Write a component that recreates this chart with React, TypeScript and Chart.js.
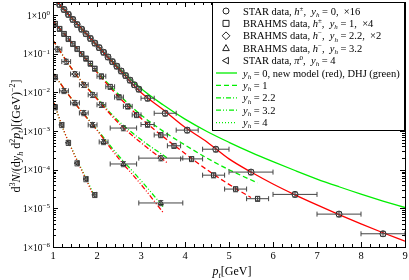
import React, { useEffect, useRef } from "react";
import { Chart, registerables } from "chart.js";
Chart.register(...registerables);

const FONT = '"Liberation Serif", "DejaVu Serif", serif';

// ---------- data ----------
// STAR h+-, y_h = 0, x16 (circles)
const starY0Pt = [1.15, 1.25, 1.35, 1.45, 1.55, 1.65, 1.75, 1.85, 1.95, 2.05, 2.15, 2.25, 2.35, 2.45, 2.55, 2.65, 2.75, 2.85, 2.95, 3.15, 3.55, 4.05, 4.7, 5.5, 6.5, 7.5, 8.5];
const starY0Val = [1.9, 1.41, 1.05, 0.78, 0.575, 0.436, 0.331, 0.251, 0.19, 0.145, 0.11, 0.083, 0.063, 0.048, 0.036, 0.0275, 0.0209, 0.0158, 0.0122, 0.0071, 0.0029, 0.00106, 0.00034, 0.000087, 0.000023, 0.0000071, 0.0000022];
const starY0Bin = [0.05, 0.05, 0.05, 0.05, 0.05, 0.05, 0.05, 0.05, 0.05, 0.05, 0.05, 0.05, 0.05, 0.05, 0.05, 0.05, 0.05, 0.05, 0.05, 0.15, 0.25, 0.25, 0.3, 0.5, 0.5, 0.5, 0.5];

// BRAHMS h+-, y_h = 1, x4 (squares)
const brY1Pt = [1.05, 1.15, 1.25, 1.35, 1.45, 1.55, 1.65, 1.75, 1.85, 1.95, 2.1, 2.3, 2.5, 2.7, 2.9, 3.15, 3.45, 3.75, 4.15, 4.65, 5.15, 5.65];
const brY1Val = [0.603, 0.447, 0.331, 0.245, 0.182, 0.135, 0.1, 0.0759, 0.0562, 0.0417, 0.0263, 0.0141, 0.00759, 0.00437, 0.00263, 0.00148, 0.000794, 0.000417, 0.000191, 0.0000724, 0.0000316, 0.0000178];
const brY1Bin = [0.05, 0.05, 0.05, 0.05, 0.05, 0.05, 0.05, 0.05, 0.05, 0.05, 0.1, 0.1, 0.1, 0.1, 0.1, 0.15, 0.15, 0.15, 0.25, 0.25, 0.25, 0.25];

// BRAHMS h-, y_h = 2.2, x2 (diamonds)
const brY22Pt = [1.1, 1.3, 1.5, 1.7, 1.9, 2.1, 2.6, 3.45];
const brY22Val = [0.132, 0.063, 0.03, 0.0158, 0.0087, 0.0048, 0.0012, 0.0002];
const brY22Bin = [0.1, 0.1, 0.1, 0.1, 0.1, 0.1, 0.3, 0.5];

// BRAHMS h-, y_h = 3.2 (triangles)
const brY32Pt = [1.05, 1.25, 1.5, 1.7, 1.9, 2.15, 2.6, 3.45];
const brY32Val = [0.0251, 0.011, 0.00537, 0.00295, 0.00145, 0.000525, 0.000141, 0.0000138];
const brY32Bin = [0.05, 0.1, 0.1, 0.1, 0.1, 0.1, 0.3, 0.5];

// STAR pi0, y_h = 4 (left triangles)
const starY4Pt = [1.05, 1.2, 1.35, 1.55, 1.75, 1.95];
const starY4Val = [0.00417, 0.00145, 0.0005, 0.000148, 0.0000575, 0.0000224];
const starY4Bin = [0.05, 0.05, 0.05, 0.05, 0.05, 0.05];

// model curves: new model (red), DHJ (green)
const cY0Pt = [1.05, 1.5, 2, 2.5, 3, 3.5, 4, 4.5, 5, 5.5, 6, 6.5, 7, 7.5, 8, 8.5, 9];
const redY0 = [2.51, 0.692, 0.166, 0.0398, 0.01, 0.00363, 0.00126, 0.000525, 0.000191, 0.0000871, 0.0000427, 0.0000224, 0.0000123, 0.00000692, 0.00000398, 0.00000234, 0.00000141];
const greenY0 = [2.51, 0.692, 0.166, 0.0427, 0.0126, 0.00479, 0.00204, 0.000977, 0.000513, 0.000282, 0.000162, 0.0000955, 0.0000575, 0.0000363, 0.0000234, 0.0000155, 0.0000105];

const cY1PtR = [1.0, 1.5, 2, 2.5, 3, 3.5, 4, 4.5, 5, 5.5];
const redY1 = [0.708, 0.158, 0.0331, 0.00759, 0.00214, 0.000724, 0.000263, 0.0001, 0.0000417, 0.0000191];
const cY1PtG = [1.0, 1.5, 2, 2.5, 3, 3.5, 4, 4.5, 5, 5.65];
const greenY1 = [0.708, 0.158, 0.0347, 0.00871, 0.00263, 0.001, 0.000437, 0.0002, 0.0001, 0.0000457];

const cY22Pt = [1.0, 1.5, 2, 2.5, 3, 3.6];
const redY22 = [0.224, 0.0316, 0.00676, 0.00158, 0.0005, 0.00015];
const greenY22 = [0.224, 0.0316, 0.00708, 0.00178, 0.000603, 0.0002];

const cY32Pt = [1.0, 1.5, 2, 2.5, 3, 3.5];
const redY32 = [0.0316, 0.00525, 0.00105, 0.000191, 0.0000417, 0.0000079];
const greenY32 = [0.0316, 0.00525, 0.0011, 0.000224, 0.0000525, 0.0000112];

const cY4Pt = [1.0, 1.25, 1.5, 1.75, 1.95];
const redY4 = [0.0063, 0.001, 0.000224, 0.0000562, 0.0000178];
const greenY4 = [0.0063, 0.001, 0.000234, 0.0000603, 0.00002];

const xTicks = [1, 2, 3, 4, 5, 6, 7, 8, 9];
const yTicks = [1e-6, 1e-5, 1e-4, 1e-3, 1e-2, 1e-1, 1];

const RED = "#ff0000";
const GREEN = "#00ee00";
const DASH: Record<string, number[]> = {
  solid: [],
  dashed: [5, 3],
  dashdot: [5, 2, 1, 2],
  dashdotdot: [5, 2, 1, 2, 1, 2],
  dotted: [1, 2],
};

type Seg = { t: string; it?: boolean; sup?: boolean; sub?: boolean };

function segFont(size: number, s: Seg) {
  const sz = s.sup || s.sub ? Math.round(size * 0.7) : size;
  return `${s.it ? "italic " : ""}${sz}px ${FONT}`;
}
function richWidth(ctx: CanvasRenderingContext2D, segs: Seg[], size: number) {
  let w = 0;
  for (const s of segs) {
    ctx.font = segFont(size, s);
    w += ctx.measureText(s.t).width;
  }
  return w;
}
function drawRich(ctx: CanvasRenderingContext2D, segs: Seg[], x: number, y: number, size: number, align: "left" | "center" | "right") {
  const w = richWidth(ctx, segs, size);
  let cx = align === "center" ? x - w / 2 : align === "right" ? x - w : x;
  ctx.textBaseline = "alphabetic";
  ctx.textAlign = "left";
  for (const s of segs) {
    ctx.font = segFont(size, s);
    const dy = s.sup ? -size * 0.38 : s.sub ? size * 0.22 : 0;
    ctx.fillText(s.t, cx, y + dy);
    cx += ctx.measureText(s.t).width;
  }
}

function drawMarker(ctx: CanvasRenderingContext2D, kind: string, x: number, y: number, r: number) {
  ctx.beginPath();
  if (kind === "circle") ctx.arc(x, y, r, 0, Math.PI * 2);
  else if (kind === "rect") ctx.rect(x - r, y - r, 2 * r, 2 * r);
  else if (kind === "rectRot") {
    ctx.moveTo(x, y - r * 1.3); ctx.lineTo(x + r * 1.3, y); ctx.lineTo(x, y + r * 1.3); ctx.lineTo(x - r * 1.3, y); ctx.closePath();
  } else if (kind === "triangle") {
    ctx.moveTo(x, y - r * 1.2); ctx.lineTo(x + r * 1.1, y + r * 0.8); ctx.lineTo(x - r * 1.1, y + r * 0.8); ctx.closePath();
  } else if (kind === "left") {
    ctx.moveTo(x - r * 1.2, y); ctx.lineTo(x + r * 0.8, y - r * 1.1); ctx.lineTo(x + r * 0.8, y + r * 1.1); ctx.closePath();
  }
  ctx.stroke();
}

const legendRows: { kind: "marker" | "line"; style: string; segs: Seg[] }[] = [
  { kind: "marker", style: "circle", segs: [{ t: "STAR data, " }, { t: "h", it: true }, { t: "±", sup: true }, { t: ",  " }, { t: "y", it: true }, { t: "h", it: true, sub: true }, { t: " = 0,  ×16" }] },
  { kind: "marker", style: "rect", segs: [{ t: "BRAHMS data, " }, { t: "h", it: true }, { t: "±", sup: true }, { t: ",  " }, { t: "y", it: true }, { t: "h", it: true, sub: true }, { t: " = 1,  ×4" }] },
  { kind: "marker", style: "rectRot", segs: [{ t: "BRAHMS data, " }, { t: "h", it: true }, { t: "−", sup: true }, { t: ",  " }, { t: "y", it: true }, { t: "h", it: true, sub: true }, { t: " = 2.2,  ×2" }] },
  { kind: "marker", style: "triangle", segs: [{ t: "BRAHMS data, " }, { t: "h", it: true }, { t: "−", sup: true }, { t: ",  " }, { t: "y", it: true }, { t: "h", it: true, sub: true }, { t: " = 3.2" }] },
  { kind: "marker", style: "left", segs: [{ t: "STAR data, " }, { t: "π", it: true }, { t: "0", sup: true }, { t: ",  " }, { t: "y", it: true }, { t: "h", it: true, sub: true }, { t: " = 4" }] },
  { kind: "line", style: "solid", segs: [{ t: "y", it: true }, { t: "h", it: true, sub: true }, { t: " = 0, new model (red), DHJ (green)" }] },
  { kind: "line", style: "dashed", segs: [{ t: "y", it: true }, { t: "h", it: true, sub: true }, { t: " = 1" }] },
  { kind: "line", style: "dashdot", segs: [{ t: "y", it: true }, { t: "h", it: true, sub: true }, { t: " = 2.2" }] },
  { kind: "line", style: "dashdotdot", segs: [{ t: "y", it: true }, { t: "h", it: true, sub: true }, { t: " = 3.2" }] },
  { kind: "line", style: "dotted", segs: [{ t: "y", it: true }, { t: "h", it: true, sub: true }, { t: " = 4" }] },
];

const decorPlugin = {
  id: "decor",
  afterDatasetsDraw(chart: any) {
    const ctx: CanvasRenderingContext2D = chart.ctx;
    const xs = chart.scales.x;
    const ys = chart.scales.y;
    const area = chart.chartArea;
    ctx.save();
    ctx.beginPath();
    ctx.rect(area.left, area.top, area.right - area.left, area.bottom - area.top);
    ctx.clip();
    ctx.strokeStyle = "#444";
    ctx.lineWidth = 1;
    chart.data.datasets.forEach((ds: any) => {
      if (!ds.eb) return;
      ds.data.forEach((d: any) => {
        const px = xs.getPixelForValue(d.x);
        const py = ys.getPixelForValue(d.y);
        const x0 = xs.getPixelForValue(d.x - d.xe);
        const x1 = xs.getPixelForValue(d.x + d.xe);
        const y0 = ys.getPixelForValue(d.y * (1 - d.ye));
        const y1 = ys.getPixelForValue(d.y * (1 + d.ye));
        ctx.beginPath();
        ctx.moveTo(x0, py); ctx.lineTo(x1, py);
        ctx.moveTo(x0, py - 2.5); ctx.lineTo(x0, py + 2.5);
        ctx.moveTo(x1, py - 2.5); ctx.lineTo(x1, py + 2.5);
        ctx.moveTo(px, y0); ctx.lineTo(px, y1);
        ctx.moveTo(px - 2.5, y0); ctx.lineTo(px + 2.5, y0);
        ctx.moveTo(px - 2.5, y1); ctx.lineTo(px + 2.5, y1);
        ctx.stroke();
      });
    });
    ctx.restore();
  },
  afterDraw(chart: any) {
    const ctx: CanvasRenderingContext2D = chart.ctx;
    const xs = chart.scales.x;
    const ys = chart.scales.y;
    const a = chart.chartArea;
    ctx.save();
    ctx.strokeStyle = "#000";
    ctx.fillStyle = "#000";
    ctx.lineWidth = 1;
    // ticks
    ctx.beginPath();
    for (let v = 1; v <= 9.001; v += 0.2) {
      const major = Math.abs(v - Math.round(v)) < 1e-6;
      const len = major ? 5 : 3;
      const px = Math.round(xs.getPixelForValue(v)) + 0.5;
      ctx.moveTo(px, a.bottom); ctx.lineTo(px, a.bottom - len);
      ctx.moveTo(px, a.top); ctx.lineTo(px, a.top + len);
    }
    for (let e = -6; e <= 0; e++) {
      for (let m = 1; m <= 9; m++) {
        const v = m * Math.pow(10, e);
        if (v > ys.max) continue;
        const len = m === 1 ? 5 : 3;
        const py = Math.round(ys.getPixelForValue(v)) + 0.5;
        ctx.moveTo(a.left, py); ctx.lineTo(a.left + len, py);
        ctx.moveTo(a.right, py); ctx.lineTo(a.right - len, py);
      }
    }
    ctx.stroke();
    // frame
    ctx.strokeRect(Math.round(a.left) + 0.5, Math.round(a.top) + 0.5, Math.round(a.right - a.left), Math.round(a.bottom - a.top));

    // y tick labels
    yTicks.forEach((v) => {
      const py = ys.getPixelForValue(v);
      const e = Math.round(Math.log10(v));
      drawRich(ctx, [{ t: "1×10" }, { t: e < 0 ? "−" + String(-e) : String(e), sup: true }], a.left - 3, py + 3.5, 9.5, "right");
    });

    // legend box
    const lx = 212, ly = 2, lw = 192, lh = 128;
    ctx.fillStyle = "#fff";
    ctx.fillRect(lx, ly, lw, lh);
    ctx.strokeStyle = "#000";
    ctx.strokeRect(lx + 0.5, ly + 0.5, lw, lh);
    legendRows.forEach((row, i) => {
      const cy = 11 + i * 12.4;
      if (row.kind === "marker") {
        ctx.strokeStyle = "#222";
        ctx.lineWidth = 1;
        drawMarker(ctx, row.style, 226, cy, 3);
      } else {
        ctx.strokeStyle = GREEN;
        ctx.lineWidth = 1.3;
        ctx.setLineDash(DASH[row.style]);
        ctx.beginPath();
        ctx.moveTo(216, cy); ctx.lineTo(237, cy);
        ctx.stroke();
        ctx.setLineDash([]);
      }
      ctx.fillStyle = "#000";
      drawRich(ctx, row.segs, 243, cy + 3.5, 10.5, "left");
    });

    // axis titles
    ctx.fillStyle = "#000";
    drawRich(ctx, [{ t: "p", it: true }, { t: "t", it: true, sub: true }, { t: "[GeV]" }], (a.left + a.right) / 2 + 3, 275, 12, "center");
    ctx.translate(20, 136);
    ctx.rotate(-Math.PI / 2);
    drawRich(ctx, [
      { t: "d" }, { t: "3", sup: true }, { t: "N", it: true }, { t: "/(d" }, { t: "y", it: true }, { t: "h", it: true, sub: true },
      { t: " d" }, { t: "2", sup: true }, { t: "p", it: true }, { t: "t", it: true, sub: true }, { t: ")[(GeV)" }, { t: "−2", sup: true }, { t: "]" },
    ], 0, 0, 12, "center");
    ctx.restore();
  },
};

function pts(xv: number[], yv: number[], bins: number[], ye: number) {
  return xv.map((x, i) => ({ x, y: yv[i], xe: bins[i], ye }));
}
function curve(xv: number[], yv: number[]) {
  return xv.map((x, i) => ({ x, y: yv[i] }));
}

export default function App() {
  const ref = useRef<HTMLCanvasElement | null>(null);
  useEffect(() => {
    if (!ref.current) return;
    const markerDs = (data: any[], style: string, rot = 0) => ({
      data, eb: true, showLine: false, pointStyle: style, pointRotation: rot, pointRadius: 3,
      pointBorderColor: "#222", pointBackgroundColor: "rgba(0,0,0,0)", pointBorderWidth: 1, order: 0,
    });
    const lineDs = (data: any[], color: string, style: string, order: number) => ({
      data, showLine: true, pointRadius: 0, borderColor: color, borderWidth: 1.3, borderDash: DASH[style],
      cubicInterpolationMode: "monotone", order, backgroundColor: color,
    });
    const zeroPad = (s: any) => { s.paddingTop = 0; s.paddingBottom = 0; s.paddingLeft = 0; s.paddingRight = 0; };
    const chart = new Chart(ref.current, {
      type: "scatter",
      data: {
        datasets: [
          lineDs(curve(cY0Pt, greenY0), GREEN, "solid", 2),
          lineDs(curve(cY1PtG, greenY1), GREEN, "dashed", 2),
          lineDs(curve(cY22Pt, greenY22), GREEN, "dashdot", 2),
          lineDs(curve(cY32Pt, greenY32), GREEN, "dashdotdot", 2),
          lineDs(curve(cY4Pt, greenY4), GREEN, "dotted", 2),
          lineDs(curve(cY0Pt, redY0), RED, "solid", 1),
          lineDs(curve(cY1PtR, redY1), RED, "dashed", 1),
          lineDs(curve(cY22Pt, redY22), RED, "dashdot", 1),
          lineDs(curve(cY32Pt, redY32), RED, "dashdotdot", 1),
          lineDs(curve(cY4Pt, redY4), RED, "dotted", 1),
          markerDs(pts(starY0Pt, starY0Val, starY0Bin, 0.15), "circle"),
          markerDs(pts(brY1Pt, brY1Val, brY1Bin, 0.15), "rect"),
          markerDs(pts(brY22Pt, brY22Val, brY22Bin, 0.15), "rectRot"),
          markerDs(pts(brY32Pt, brY32Val, brY32Bin, 0.15), "triangle"),
          markerDs(pts(starY4Pt, starY4Val, starY4Bin, 0.15), "triangle", -90),
        ] as any,
      },
      options: {
        animation: false,
        responsive: true,
        maintainAspectRatio: false,
        layout: { autoPadding: false, padding: { top: 2, right: 4, left: 0, bottom: 0 } },
        plugins: { legend: { display: false }, tooltip: { enabled: false } },
        scales: {
          x: {
            type: "linear", min: 1, max: 9,
            afterBuildTicks: (axis: any) => { axis.ticks = xTicks.map((v) => ({ value: v })); },
            ticks: { font: { family: FONT, size: 10.5 }, color: "#000", padding: 3, maxRotation: 0 },
            grid: { display: false, drawTicks: false },
            border: { display: false },
            afterFit: (s: any) => { s.height = 33; zeroPad(s); },
          },
          y: {
            type: "logarithmic", min: 1e-6, max: 2.2,
            afterBuildTicks: (axis: any) => { axis.ticks = yTicks.map((v) => ({ value: v })); },
            ticks: { display: false },
            grid: { display: false, drawTicks: false },
            border: { display: false },
            afterFit: (s: any) => { s.width = 53; zeroPad(s); },
          },
        } as any,
      },
      plugins: [decorPlugin],
    });
    return () => chart.destroy();
  }, []);
  return (
    <div style={{ position: "fixed", left: 0, top: 0, width: 409, height: 280, background: "#fff" }}>
      <canvas ref={ref} />
    </div>
  );
}
